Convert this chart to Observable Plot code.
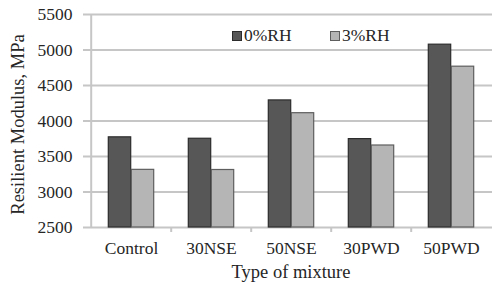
<!DOCTYPE html>
<html>
<head>
<meta charset="utf-8">
<script src="https://cdn.jsdelivr.net/npm/d3@7"></script>
<script src="https://cdn.jsdelivr.net/npm/@observablehq/plot@0.6"></script>
<style>
  html, body { margin: 0; padding: 0; background: #fff; }
  #wrap { position: relative; width: 492px; height: 291px; font-family: "Liberation Serif", "Times New Roman", serif; color: #262626; }
  .leg { position: absolute; font-size: 17.5px; line-height: 1; display: flex; align-items: center; }
  .sw { width: 8px; height: 8px; margin-right: 2px; border: 1px solid #333; }
</style>
</head>
<body>
<div id="wrap"></div>
<script>
const categories = ["Control", "30NSE", "50NSE", "30PWD", "50PWD"];
const seriesNames = ["0%RH", "3%RH"];
const values0 = [3770, 3750, 4290, 3745, 5075];
const values1 = [3312, 3310, 4110, 3655, 4765];
const yTicks = [2500, 3000, 3500, 4000, 4500, 5000, 5500];
const yTitle = "Resilient Modulus, MPa";
const xTitle = "Type of mixture";
const colors = ["#575757", "#b5b5b5"];
const strokes = ["#2c2c2c", "#5e5e5e"];

const W = 492, H = 291, mL = 89, mR = 0, mT = 14, mB = 64;
const bw = (W - mL - mR) / categories.length;
const barW = 23;

const d0 = categories.map((c, i) => ({cat: c, value: values0[i]}));
const d1 = categories.map((c, i) => ({cat: c, value: values1[i]}));

const chart = Plot.plot({
  width: W, height: H,
  marginLeft: mL, marginRight: mR, marginTop: mT, marginBottom: mB,
  style: {fontFamily: '"Liberation Serif", "Times New Roman", serif', fontSize: "17.5px", color: "#262626", background: "#fff"},
  x: {type: "band", domain: categories, padding: 0},
  y: {domain: [yTicks[0], yTicks[yTicks.length - 1]]},
  marks: [
    Plot.ruleY(yTicks, {stroke: "#c6c6c6", strokeWidth: 2, insetLeft: -6}),
    Plot.ruleX([categories[0]], {dx: -bw / 2, stroke: "#c6c6c6", strokeWidth: 2}),
    Plot.ruleX(categories.slice(1), {dx: -bw / 2, y1: yTicks[0], y2: yTicks[0], insetBottom: -5, stroke: "#c6c6c6", strokeWidth: 2}),
    Plot.axisY({ticks: yTicks, tickSize: 0, tickPadding: 17, tickFormat: d => String(d), label: null}),
    Plot.axisX({tickSize: 0, tickPadding: 14, label: null}),
    Plot.barY(d0, {x: "cat", y1: yTicks[0], y2: "value", fill: colors[0], stroke: strokes[0], strokeWidth: 1.2, insetLeft: bw / 2 - barW, insetRight: bw / 2}),
    Plot.barY(d1, {x: "cat", y1: yTicks[0], y2: "value", fill: colors[1], stroke: strokes[1], strokeWidth: 1.2, insetLeft: bw / 2, insetRight: bw / 2 - barW}),
    Plot.text([xTitle], {text: d => d, frameAnchor: "bottom", dy: 50, fontSize: 18.5, fill: "#262626"}),
    Plot.text([yTitle], {text: d => d, frameAnchor: "left", textAnchor: "middle", dx: -71, dy: 3.5, rotate: -90, fontSize: 18.5, fill: "#262626"})
  ]
});

const wrap = document.getElementById("wrap");
wrap.appendChild(chart);

const legPos = [232, 330];
seriesNames.forEach((name, i) => {
  const el = document.createElement("div");
  el.className = "leg";
  el.style.left = legPos[i] + "px";
  el.style.top = "27px";
  const sw = document.createElement("div");
  sw.className = "sw";
  sw.style.background = colors[i];
  sw.style.borderColor = strokes[i];
  const t = document.createElement("span");
  t.textContent = name;
  el.appendChild(sw);
  el.appendChild(t);
  wrap.appendChild(el);
});
</script>
</body>
</html>
